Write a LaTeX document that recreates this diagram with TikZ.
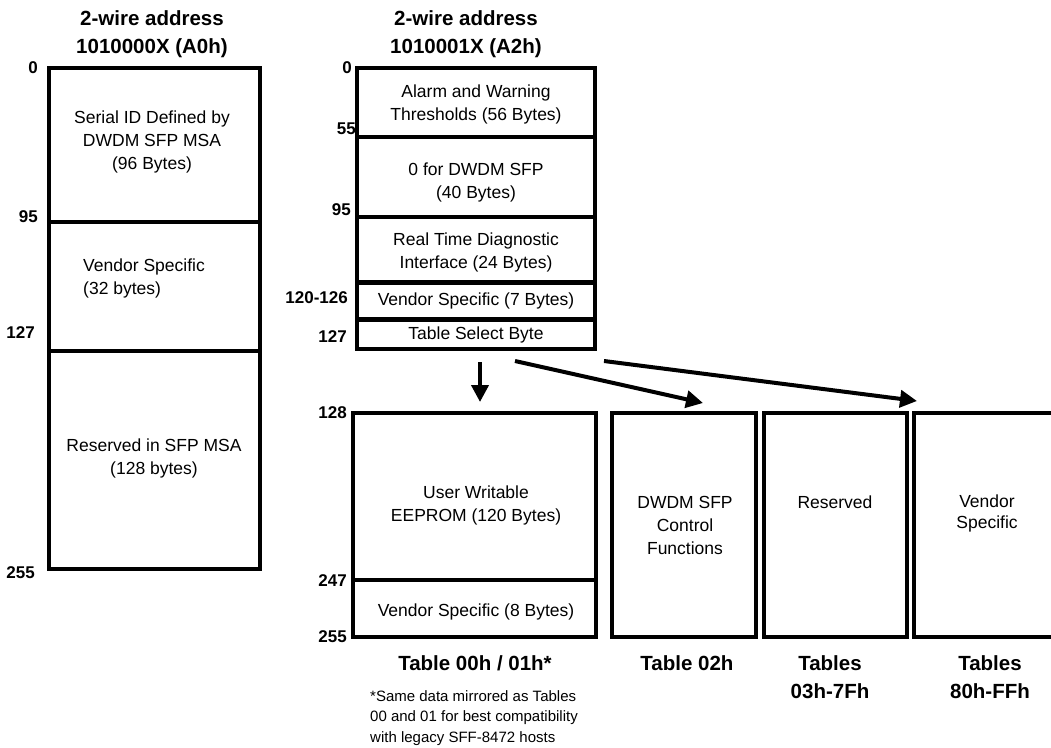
\documentclass[tikz,border=0pt]{standalone}
\usepackage{fontspec}
\setmainfont{Liberation Sans}
\usetikzlibrary{arrows.meta}

\begin{document}
\begin{tikzpicture}[x=1pt,y=-1pt,
  box/.style={black,line width=3.5pt},
  txt/.style={font=\fontsize{17.5}{23}\selectfont,align=center,inner sep=0pt},
  addr/.style={font=\fontsize{17}{20}\selectfont\bfseries,anchor=east,inner sep=0pt},
  ttl/.style={font=\fontsize{20.5}{28}\selectfont\bfseries,align=center,inner sep=0pt},
  note/.style={font=\fontsize{15}{20.5}\selectfont,align=left,anchor=west,inner sep=0pt},
  sel/.style={black,line width=4pt,-{Triangle[length=17pt,width=17pt]}}]
  \useasboundingbox (0,0) rectangle (1051,747);
  \clip (0,0) rectangle (1051,747);
  % A0h page
  \node[ttl] (tA0) at (152,34) {2-wire address\\1010000X (A0h)};
  \draw[box] (49,68) rectangle (260,569);
  \draw[box] (49,222) -- (260,222);
  \draw[box] (49,351) -- (260,351);
  \node[addr] (a0) at (38,68) {0};
  \node[addr] (a95) at (38,217) {95};
  \node[addr] (a127) at (35,333) {127};
  \node[addr] (a255) at (35,573) {255};
  \node[txt] (serid) at (152,142) {Serial ID Defined by\\DWDM SFP MSA\\(96 Bytes)};
  \node[txt,align=left,anchor=west] (vsA0) at (83,278) {Vendor Specific\\(32 bytes)};
  \node[txt] (resA0) at (154,458) {Reserved in SFP MSA\\(128 bytes)};
  % A2h page, lower half
  \node[ttl] (tA2) at (466,34) {2-wire address\\1010001X (A2h)};
  \draw[box] (357,68) rectangle (595,349);
  \draw[box] (357,137) -- (595,137);
  \draw[box] (357,217) -- (595,217);
  \draw[box,line width=5pt] (357,282) -- (595,282);
  \draw[box,line width=5pt] (357,319) -- (595,319);
  \node[addr] (b0) at (352,68) {0};
  \node[addr] (b55) at (356,129) {55};
  \node[addr] (b95) at (351,210) {95};
  \node[addr] (b120) at (348,298) {120-126};
  \node[addr] (b127) at (347,337) {127};
  \node[txt] (alarm) at (476,104) {Alarm and Warning\\Thresholds (56 Bytes)};
  \node[txt] (zero) at (476,182) {0 for DWDM SFP\\(40 Bytes)};
  \node[txt] (rtdi) at (476,252) {Real Time Diagnostic\\Interface (24 Bytes)};
  \node[txt] (vs7) at (476,301) {Vendor Specific (7 Bytes)};
  \node[txt] (tsb) at (476,335) {Table Select Byte};
  % upper half, selected tables
  \draw[box] (353,413) rectangle (596,637);
  \draw[box,line width=4.5pt] (353,580) -- (596,580);
  \draw[box] (612,413) rectangle (756,637);
  \draw[box] (764,413) rectangle (907,637);
  \draw[box] (914,413) rectangle (1075,637);
  \node[addr] (c128) at (347,413) {128};
  \node[addr] (c247) at (347,581) {247};
  \node[addr] (c255) at (347,637) {255};
  \node[txt] (eeprom) at (476,505) {User Writable\\EEPROM (120 Bytes)};
  \node[txt] (vs8) at (476,612) {Vendor Specific (8 Bytes)};
  \node[txt] (ctrl) at (685,525) {DWDM SFP\\Control\\Functions};
  \node[txt] (res) at (835,502) {Reserved};
  \node[txt,font=\fontsize{17.5}{21}\selectfont] (vend) at (987,513) {Vendor\\Specific};
  \node[ttl] (t00) at (475,663) {Table 00h / 01h*};
  \node[ttl] (t02) at (687,663) {Table 02h};
  \node[ttl] (t03) at (830,677) {Tables\\03h-7Fh};
  \node[ttl] (t80) at (990,677) {Tables\\80h-FFh};
  \node[note] (fn) at (370,718) {*Same data mirrored as Tables\\00 and 01 for best compatibility\\with legacy SFF-8472 hosts};
  % table select arrows
  \coordinate (s1) at (480,362); \coordinate (e1) at (480,402);
  \coordinate (s2) at (515,361); \coordinate (e2) at (703,403);
  \coordinate (s3) at (604,361); \coordinate (e3) at (917,401);
  \draw[sel] (s1) -- (e1);
  \draw[sel] (s2) -- (e2);
  \draw[sel] (s3) -- (e3);
\end{tikzpicture}
\end{document}
